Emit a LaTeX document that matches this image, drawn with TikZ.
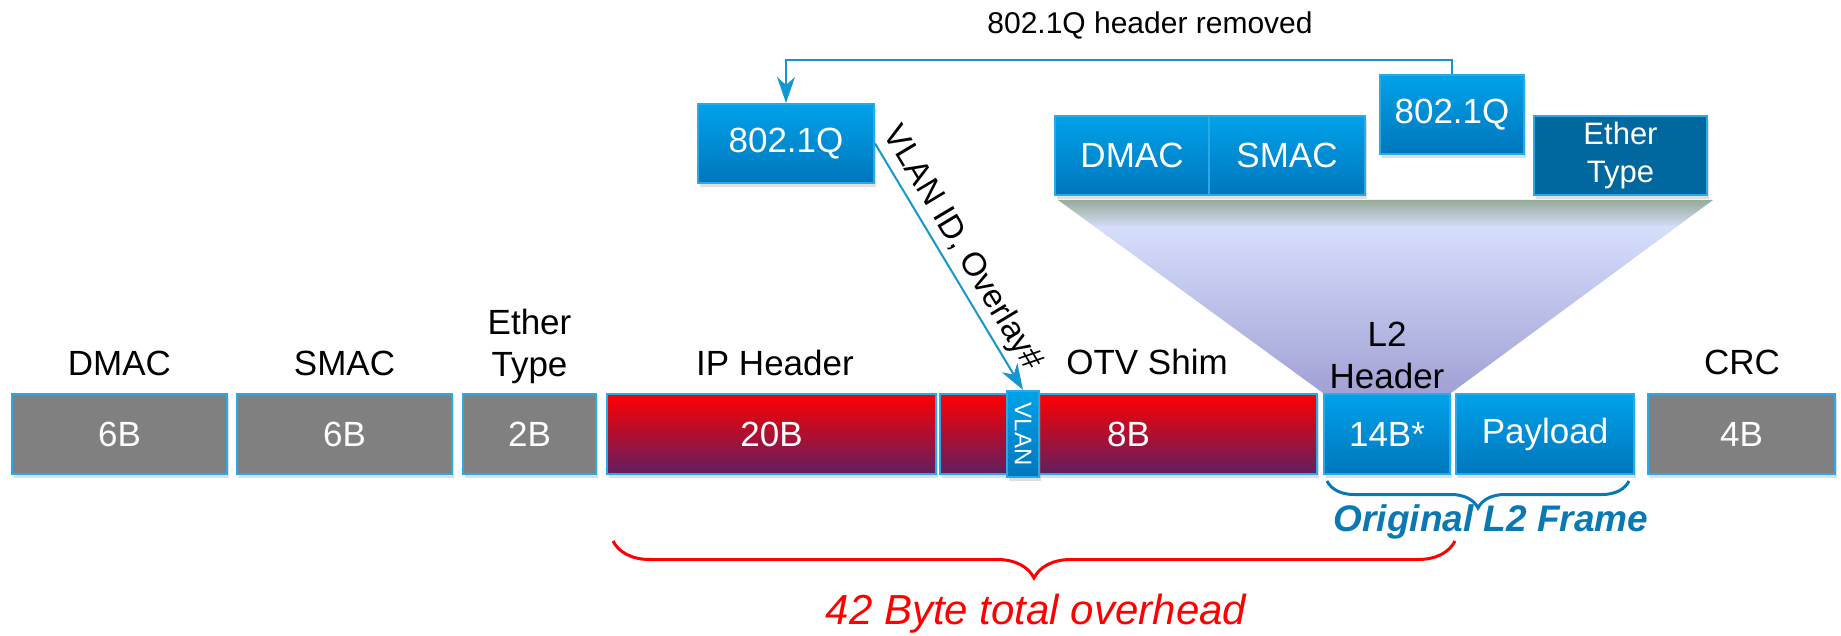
\documentclass[tikz,border=0pt]{standalone}
\usepackage{fontspec}
\setmainfont{Liberation Sans}
\usepackage{tikz}
\usetikzlibrary{calc}
\usetikzlibrary{shadows}
\usetikzlibrary{arrows.meta}
\usetikzlibrary{decorations.pathreplacing}
\definecolor{boxedge}{RGB}{40,170,230}
\definecolor{greyfill}{RGB}{128,128,128}
\definecolor{bluetop}{RGB}{0,162,234}
\definecolor{bluebot}{RGB}{0,118,188}
\definecolor{darkblue}{RGB}{0,104,158}
\definecolor{redbot}{RGB}{96,30,96}
\definecolor{redmid}{RGB}{205,8,40}
\definecolor{arrowblue}{RGB}{20,150,210}
\definecolor{framecol}{RGB}{10,120,178}
\definecolor{trapgreen}{RGB}{150,170,150}
\definecolor{traptop}{RGB}{214,222,252}
\definecolor{trapbot}{RGB}{160,160,212}
\newcommand{\boxfont}{\fontsize{17.5}{21}\selectfont}
\tikzset{
    field/.style={draw=boxedge, line width=1pt, inner sep=0pt, text=white,
        font=\boxfont, minimum height=40pt,
        drop shadow={opacity=.25, shadow xshift=1pt, shadow yshift=-2pt}},
    greyfield/.style={field, fill=greyfill},
    redfield/.style={field, top color=red, middle color=redmid, bottom color=redbot},
    bluefield/.style={field, top color=bluetop, bottom color=bluebot},
    fieldname/.style={font=\boxfont, align=center},
    hop/.style={arrowblue, line width=1pt, -{Stealth[length=13pt, width=9pt, inset=4pt]}},
}
\begin{document}
\begin{tikzpicture}[x=0.5pt, y=-0.5pt]
        \useasboundingbox (0,0) rectangle (1841,636);
        % frame fields
        \node[greyfield, minimum width=107.5pt] (dmac) at (119.5,434) {6B};
        \node[greyfield, minimum width=107.5pt] (smac) at (344.5,434) {6B};
        \node[greyfield, minimum width=66.5pt] (etype) at (529.5,434) {2B};
        \node[redfield, minimum width=164.5pt] (ip) at (771.5,434) {20B};
        \node[redfield, minimum width=188.5pt] (otv) at (1128.5,434) {8B};
        \node[bluefield, minimum width=16pt, minimum height=43pt, font=\fontsize{12}{14}\selectfont] (vlan) at (1023,434) {\rotatebox{-90}{VLAN}};
        \node[bluefield, minimum width=63pt] (l2h) at (1387,434) {14B*};
        \node[bluefield, minimum width=89pt] (pay) at (1545,434) {Payload};
        \node[greyfield, minimum width=93.5pt] (crc) at (1741.5,434) {4B};
        \node[fieldname] (dmaclbl) at (119.5,363) {DMAC};
        \node[fieldname] (smaclbl) at (344.5,363) {SMAC};
        \node[fieldname] (etypelbl) at (529.5,346) {Ether\\Type};
        \node[fieldname] (iplbl) at (775,363) {IP Header};
        \node[fieldname] (otvlbl) at (1147,362) {OTV Shim};
        \node[fieldname] (crclbl) at (1742,362) {CRC};
        % inner l2 header, opened up
        \begin{scope}
            \clip (1058,200) -- (1713,200) -- (l2h.north east) -- (l2h.north west) -- cycle;
            \shade[top color=trapgreen, bottom color=traptop] (1050,199) rectangle (1720,228);
            \shade[top color=traptop, bottom color=trapbot] (1050,227) rectangle (1720,396);
        \end{scope}
        \node[fieldname] (l2lbl) at (1387,355) {L2\\Header};
        \node[bluefield, minimum width=77pt, minimum height=39.5pt] (tdmac) at (1132,155.5) {DMAC};
        \node[bluefield, minimum width=78pt, minimum height=39.5pt] (tsmac) at (1287,155.5) {SMAC};
        \node[bluefield, minimum width=72pt, minimum height=39.5pt] (rq) at (1452,114.5) {802.1Q};
        \node[field, fill=darkblue, minimum width=86.5pt, minimum height=39.5pt, align=center,
            font=\fontsize{15.5}{19}\selectfont] (tetype) at (1620.5,155.5) {Ether\\Type};
        \node[bluefield, minimum width=88pt, minimum height=39.5pt] (lq) at (786,143.5) {802.1Q};
        % tag moved out and into the shim
        \draw[hop] (rq.north) -- ++(0,-14) -| (lq.north);
        \node[font=\fontsize{15}{18}\selectfont] (removed) at (1150,25) {802.1Q header removed};
        \draw[hop] (lq.east) -- (vlan.north)
            node[pos=.47, above, sloped, text=black, inner sep=2pt, font=\fontsize{16.5}{19}\selectfont] (vlanid) {VLAN ID, Overlay\#};
        % braces
        \draw[framecol, line width=1.5pt, decorate, decoration={brace, mirror, amplitude=13.5pt}]
            ($(l2h.south west)+(4,6)$) -- ($(pay.south east)+(-6,6)$);
        \node[framecol, font=\fontsize{18.5}{21}\bfseries\itshape] (frame) at (1491,522) {Original L2 Frame};
        \draw[red, line width=1.5pt, decorate, decoration={brace, mirror, amplitude=18.5pt}]
            ($(ip.south west)+(7,66)$) -- ($(l2h.south east)+(4,66)$);
        \node[red, font=\fontsize{21}{24}\itshape] (overhead) at (1036,614) {42 Byte total overhead};
    \end{tikzpicture}
\end{document}
